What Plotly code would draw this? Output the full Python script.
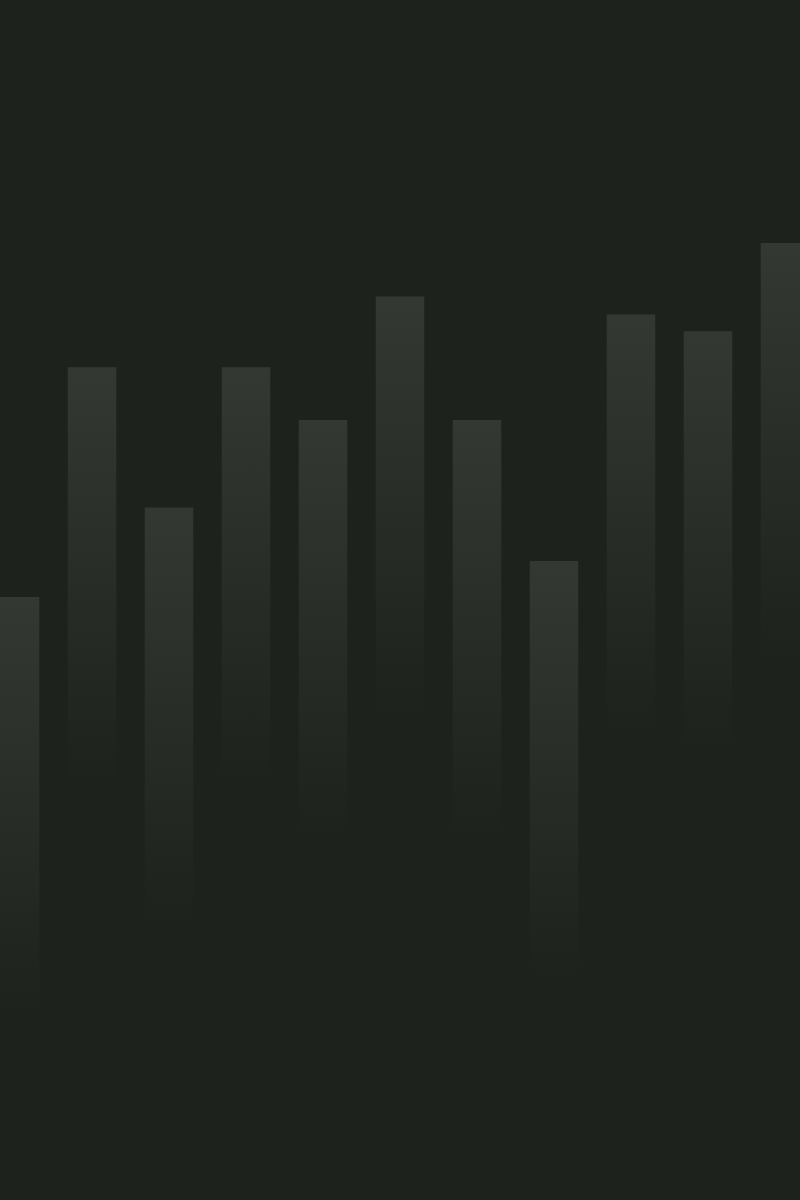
import plotly.graph_objects as go

# Data
categories = list(range(11))
values = [50.25, 69.4, 57.7, 69.4, 65.0, 75.3, 65.0, 53.25, 73.8, 72.4, 79.75]

# Styling constants
BG = "#1d221d"
BAR_WIDTH = 0.63
FADE = 35.0  # length of the fade in y units

fig = go.Figure()
for c, v in zip(categories, values):
    x0, x1 = c - BAR_WIDTH / 2, c + BAR_WIDTH / 2
    bottom = max(v - FADE, 0)
    fig.add_trace(go.Scatter(
        x=[x0, x1, x1, x0, x0],
        y=[v, v, bottom, bottom, v],
        mode="lines",
        line=dict(width=0),
        fill="toself",
        fillgradient=dict(
            type="vertical",
            start=bottom,
            stop=v,
            colorscale=[[0, "rgba(255,255,255,0)"], [1, "rgba(255,255,255,0.1)"]],
        ),
        hoverinfo="skip",
        showlegend=False,
    ))

fig.update_layout(
    width=800, height=1200,
    margin=dict(l=0, r=0, t=0, b=0),
    paper_bgcolor=BG, plot_bgcolor=BG,
    xaxis=dict(range=[-0.195, 10.195], visible=False, fixedrange=True),
    yaxis=dict(range=[0, 100], visible=False, fixedrange=True),
    showlegend=False,
)

fig.write_html("out.html", config={"displayModeBar": False})

# remove default page margin so the figure fills the window
with open("out.html", "r", encoding="utf-8") as f:
    html = f.read()
html = html.replace(
    "<head>",
    "<head><style>html,body{margin:0;padding:0;background:%s;overflow:hidden;}</style>" % BG,
    1,
)
with open("out.html", "w", encoding="utf-8") as f:
    f.write(html)
